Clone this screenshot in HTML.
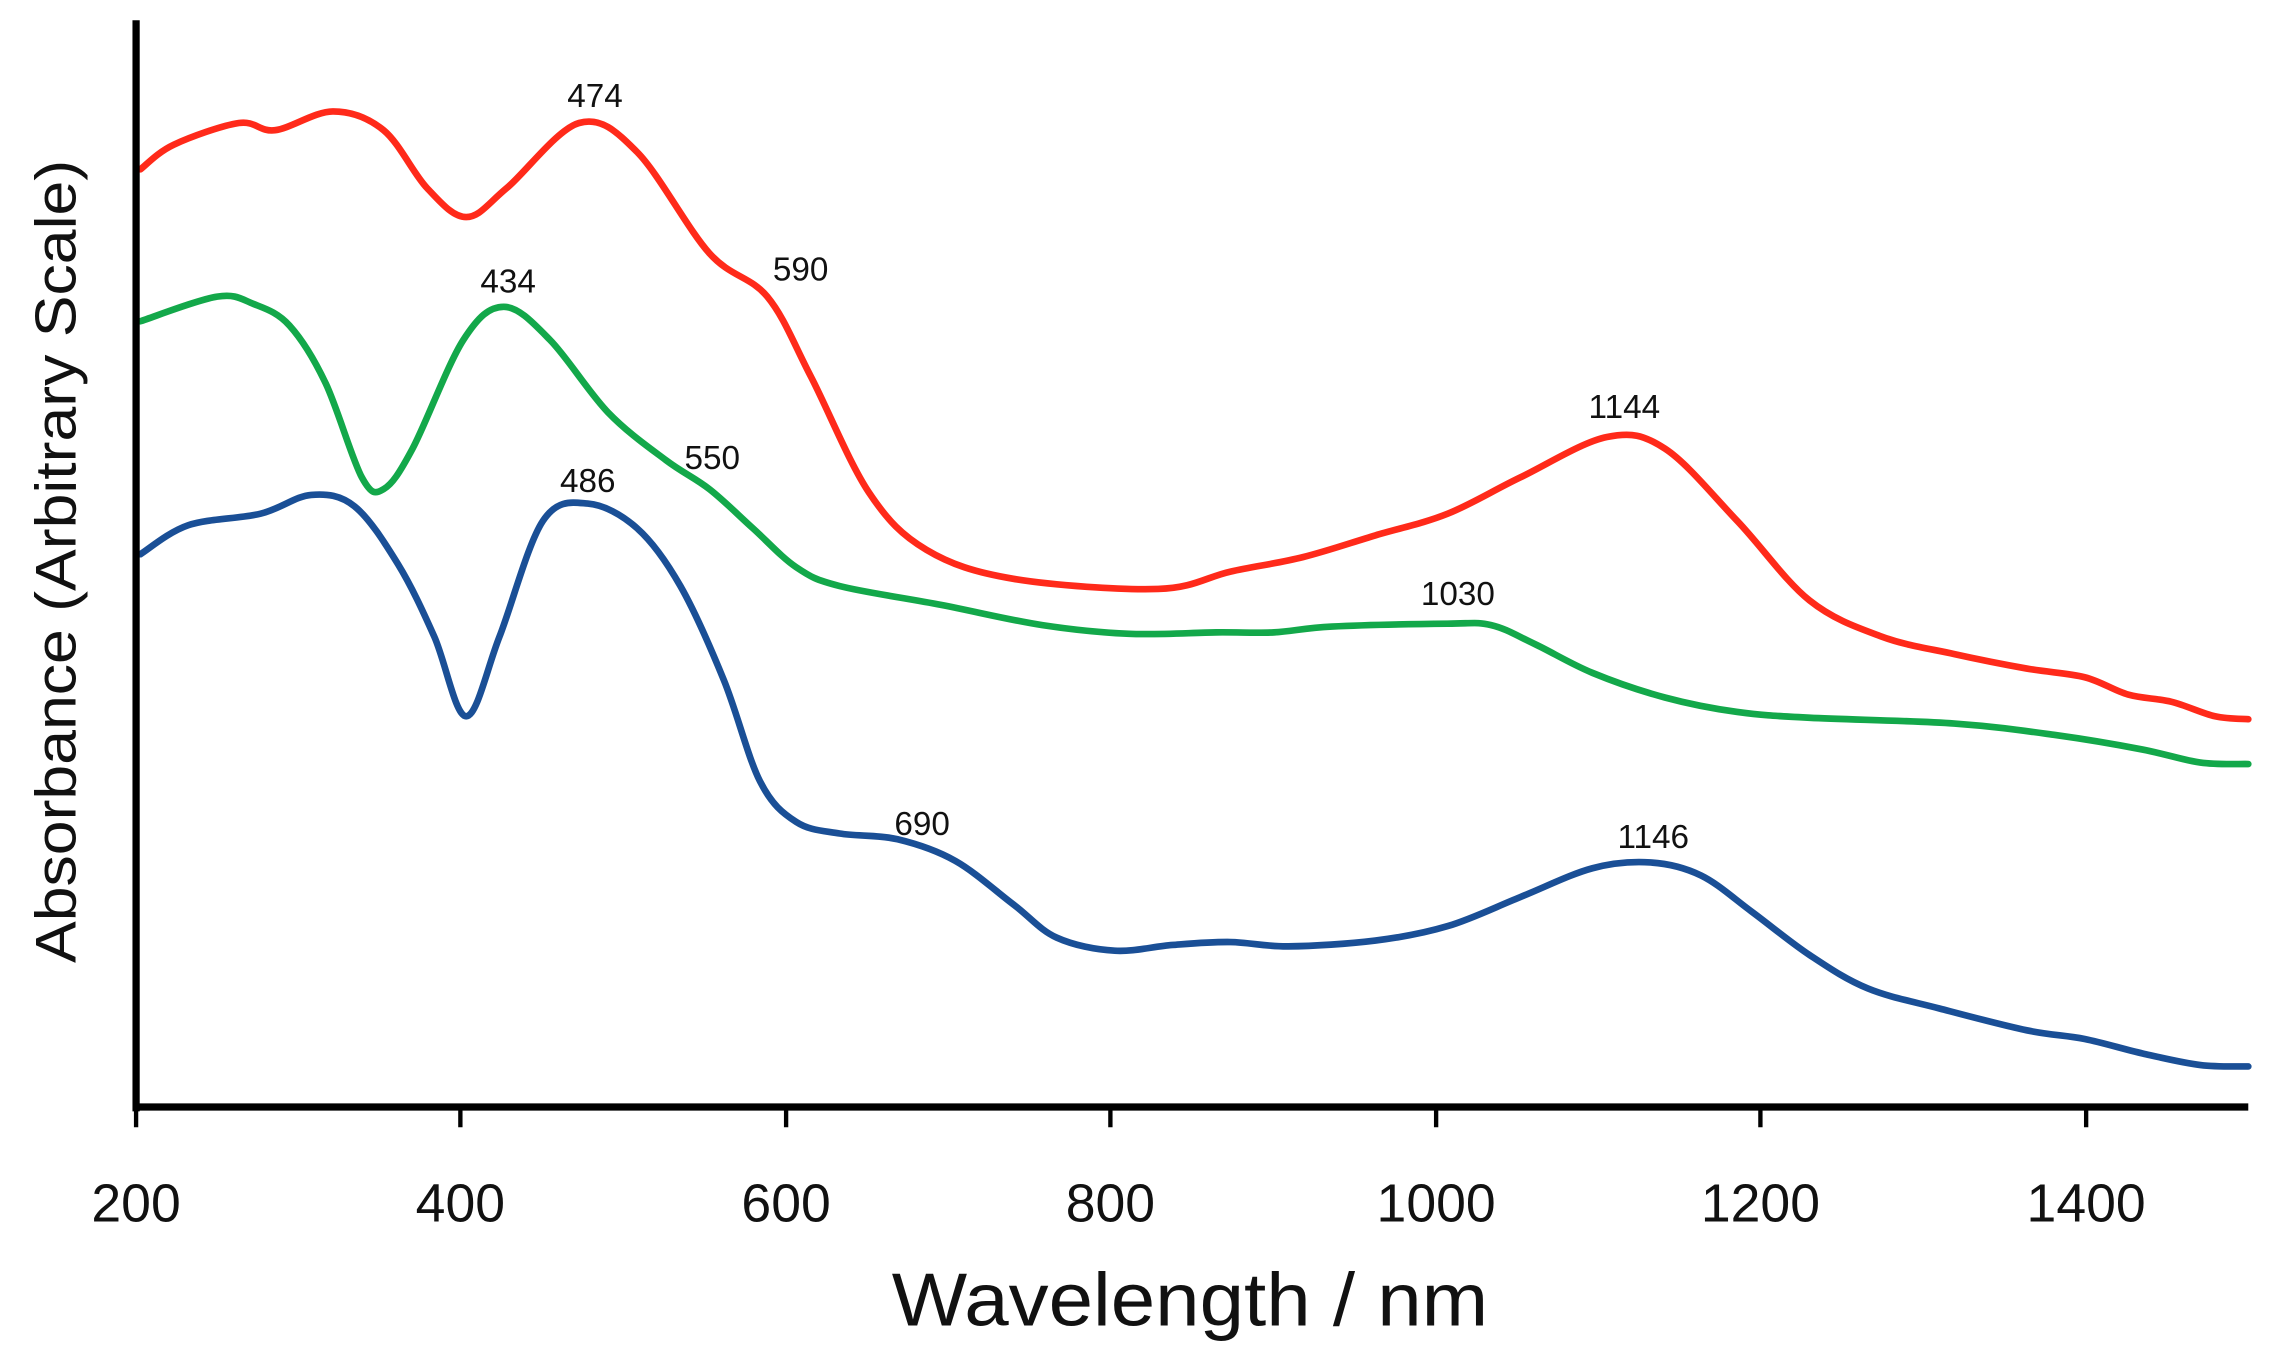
<!DOCTYPE html>
<html><head><meta charset="utf-8"><style>
html,body{margin:0;padding:0;background:#fff;}
svg{display:block;}
</style></head><body>
<svg id="s" width="2270" height="1353" viewBox="0 0 1568 935" preserveAspectRatio="none" xmlns="http://www.w3.org/2000/svg">
<rect width="1568" height="935" fill="#fff"/>
<g fill="none" stroke-width="4.6" stroke-linejoin="round" stroke-linecap="round">
<polyline class="c" stroke="#ff2a1a" points="97,117 120,100 165,85 190,90 230,77 265,90 295,130 322,150 350,130 400,85 440,105 490,175 530,205 560,260 600,340 640,380 700,400 800,407 850,395 900,385 950,370 1000,355 1050,330 1110,302 1150,310 1200,360 1250,415 1300,440 1350,452 1400,462 1440,468 1470,480 1500,485 1530,495 1553,497"/>
<polyline class="c" stroke="#13a84a" points="97,222 150,205 175,210 200,225 225,265 250,330 265,338 285,310 320,235 348,212 380,235 420,285 460,318 490,338 520,365 550,392 580,405 650,418 720,432 780,438 840,437 880,437 920,433 1000,431 1030,432 1060,445 1100,465 1150,482 1200,492 1250,496 1350,500 1420,508 1480,518 1520,527 1553,528"/>
<polyline class="c" stroke="#1a4f96" points="97,383 130,363 180,355 215,342 245,350 275,390 300,440 322,495 345,440 375,360 406,348 440,365 470,405 500,470 525,540 550,568 580,576 620,580 660,595 700,625 730,648 770,657 810,653 850,651 890,654 950,650 1000,640 1050,620 1100,600 1140,596 1175,605 1210,630 1250,660 1290,683 1340,697 1400,712 1440,718 1480,728 1520,736 1553,737"/>
</g>
<g stroke="#000">
<line x1="94" y1="14" x2="94" y2="768" stroke-width="5"/>
<line x1="92" y1="765" x2="1553" y2="765" stroke-width="5"/>
<g stroke-width="3">
<line x1="94" y1="765" x2="94" y2="779"/><line x1="318" y1="765" x2="318" y2="779"/><line x1="543" y1="765" x2="543" y2="779"/><line x1="767" y1="765" x2="767" y2="779"/><line x1="992" y1="765" x2="992" y2="779"/><line x1="1216" y1="765" x2="1216" y2="779"/><line x1="1441" y1="765" x2="1441" y2="779"/>
</g></g>
<g font-family="Liberation Sans, sans-serif" font-size="37" text-anchor="middle" fill="#111">
<text x="94" y="844">200</text><text x="318" y="844">400</text><text x="543" y="844">600</text><text x="767" y="844">800</text><text x="992" y="844">1000</text><text x="1216" y="844">1200</text><text x="1441" y="844">1400</text>
</g>
<text x="822" y="916" font-family="Liberation Sans, sans-serif" font-size="52" text-anchor="middle" textLength="412" lengthAdjust="spacingAndGlyphs" fill="#111">Wavelength / nm</text>
<text transform="translate(52,388) rotate(-90)" font-family="Liberation Sans, sans-serif" font-size="40" text-anchor="middle" textLength="555" lengthAdjust="spacingAndGlyphs" fill="#111">Absorbance (Arbitrary Scale)</text>
<g font-family="Liberation Sans, sans-serif" font-size="23" text-anchor="middle" fill="#111">
<text x="411" y="74">474</text><text x="553" y="194">590</text><text x="351" y="202">434</text><text x="492" y="324">550</text><text x="406" y="340">486</text><text x="637" y="577">690</text><text x="1122" y="289">1144</text><text x="1007" y="418">1030</text><text x="1142" y="586">1146</text>
</g>
</svg>
<script>
document.querySelectorAll('polyline.c').forEach(function(pl){
  var p=pl.getAttribute('points').trim().split(/\s+/).map(function(s){return s.split(',').map(Number);});
  var d='M'+p[0][0]+','+p[0][1];
  for(var i=0;i<p.length-1;i++){
    var p0=p[Math.max(i-1,0)],p1=p[i],p2=p[i+1],p3=p[Math.min(i+2,p.length-1)];
    var c1x=p1[0]+(p2[0]-p0[0])/6,c1y=p1[1]+(p2[1]-p0[1])/6;
    var c2x=p2[0]-(p3[0]-p1[0])/6,c2y=p2[1]-(p3[1]-p1[1])/6;
    d+=' C'+c1x.toFixed(1)+','+c1y.toFixed(1)+' '+c2x.toFixed(1)+','+c2y.toFixed(1)+' '+p2[0]+','+p2[1];
  }
  var path=document.createElementNS('http://www.w3.org/2000/svg','path');
  path.setAttribute('d',d);path.setAttribute('stroke',pl.getAttribute('stroke'));
  pl.parentNode.replaceChild(path,pl);
});
</script>
</body></html>
